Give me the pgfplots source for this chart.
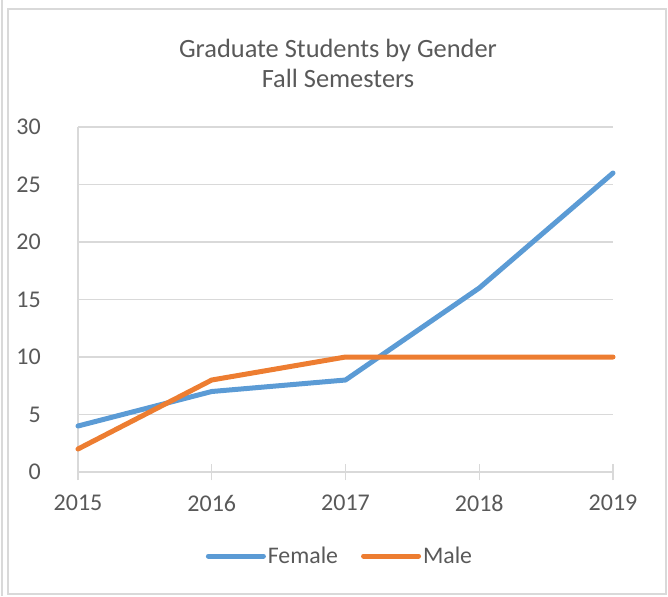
\documentclass[border=0pt]{standalone}
\usepackage{pgfplots}
\pgfplotsset{compat=1.18}
\usepackage{fontspec}
\setmainfont{Carlito}
\definecolor{txt}{HTML}{595959}
\definecolor{grd}{HTML}{D9D9D9}
\definecolor{fem}{HTML}{5B9BD5}
\definecolor{mal}{HTML}{ED7D31}
\begin{document}
\begin{tikzpicture}[x=1pt,y=1pt]
\path[use as bounding box] (0,0) rectangle (668,-596);
\draw[grd, line width=1.5pt] (8,-9) rectangle (666,-594);
\draw[grd, line width=1.5pt] (2,0) -- (2,-596);
\node[text=txt, font=\fontsize{26.4}{30}\selectfont, align=center] at (338,-63) {Graduate Students by Gender\\Fall Semesters};
\begin{axis}[
  at={(78pt,-472pt)}, anchor=south west,
  scale only axis, width=535pt, height=345pt,
  xmin=2015, xmax=2019, ymin=0, ymax=30,
  xtick={2015,2016,2017,2018,2019},
  ytick={0,5,10,15,20,25,30},
  axis x line*=bottom, axis y line*=left,
  axis line style={grd, line width=1.3pt},
  ymajorgrids, grid style={grd, line width=1.3pt},
  tick align=center, major tick length=16pt,
  xtick style={grd, line width=1.3pt},
  ytick style={draw=none},
  /pgf/number format/.cd, set thousands separator={}, assume math mode=true,
  /pgfplots/.cd,
  ticklabel style={text=txt, font=\fontsize{24}{28}\selectfont, inner sep=0pt},
  xticklabel style={anchor=north, yshift=-15pt},
  yticklabel style={anchor=east, xshift=-29pt},
  legend style={at={(0.4897,-0.2435)}, anchor=center, draw=none, fill=none,
    font=\fontsize{23.8}{26}\selectfont, text=txt,
    /tikz/every even column/.append style={column sep=21pt}},
  legend columns=-1,
  legend image code/.code={\draw[#1, line width=5pt, line cap=round] (0,0) -- (55pt,0);},
  clip=false,
]
\addplot[fem, line width=5pt, line cap=round, line join=round] coordinates {(2015,4) (2016,7) (2017,8) (2018,16) (2019,26)};
\addlegendentry{Female}
\addplot[mal, line width=5pt, line cap=round, line join=round] coordinates {(2015,2) (2016,8) (2017,10) (2018,10) (2019,10)};
\addlegendentry{Male}
\end{axis}
\end{tikzpicture}
\end{document}
